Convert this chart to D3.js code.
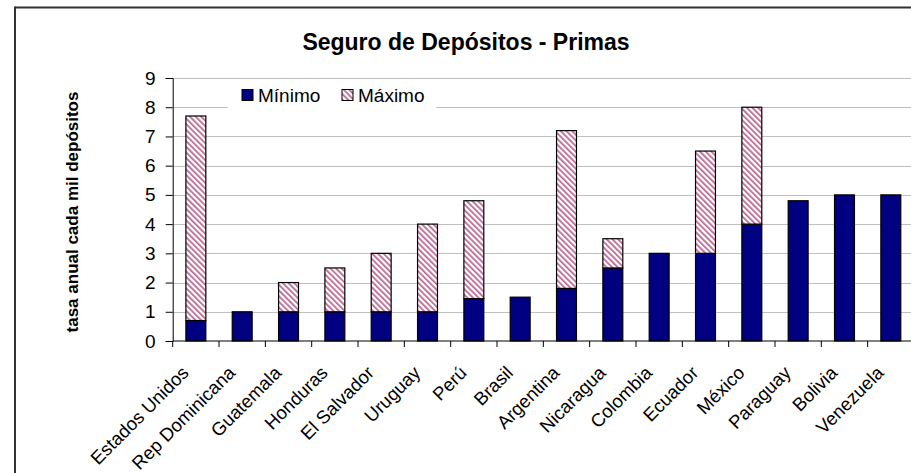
<!DOCTYPE html>
<html lang='en'>
<head>
    <meta charset='UTF-8'>
    <title>Seguro de Depósitos - Primas</title>
    <style>
        body { margin: 0; background: #fff; }
        text { font-family: 'Liberation Sans', Arial, sans-serif; fill: #000; }
    </style>
</head>
<body>
<div id="chart-area"></div>
<script src='https://d3js.org/d3.v7.min.js'></script>
<script>

    const countries = ['Estados Unidos', 'Rep Dominicana', 'Guatemala', 'Honduras', 'El Salvador', 'Uruguay',
        'Perú', 'Brasil', 'Argentina', 'Nicaragua', 'Colombia', 'Ecuador', 'México', 'Paraguay', 'Bolivia', 'Venezuela'];
    const minimo = [0.7, 1, 1, 1, 1, 1, 1.45, 1.5, 1.8, 2.5, 3, 3, 4, 4.8, 5, 5];
    const maximo = [7.7, null, 2, 2.5, 3, 4, 4.8, null, 7.2, 3.5, null, 6.5, 8, null, null, null];
    const yTicks = [0, 1, 2, 3, 4, 5, 6, 7, 8, 9];
    const seriesNames = ['Mínimo', 'Máximo'];

    const outerWidth = 911;
    const outerHeight = 473;
    const margin = {top: 78, left: 172.7, bottom: 132};
    const plotWidth = 46.33 * countries.length;
    const plotHeight = outerHeight - margin.top - margin.bottom;

    const svg = d3.select('#chart-area').append('svg')
        .attr('width', outerWidth)
        .attr('height', outerHeight);

    const defs = svg.append('defs');
    const pat = defs.append('pattern')
        .attr('id', 'stripes')
        .attr('patternUnits', 'userSpaceOnUse')
        .attr('width', 4)
        .attr('height', 4)
        .attr('patternTransform', 'rotate(-45)');
    pat.append('rect').attr('width', 4).attr('height', 4).attr('fill', '#fff');
    pat.append('rect').attr('width', 1.7).attr('height', 4).attr('fill', '#b9628f');

    // chart area border (only top and left visible)
    svg.append('line').attr('x1', 15).attr('x2', outerWidth).attr('y1', 7.5).attr('y2', 7.5)
        .attr('stroke', '#333').attr('stroke-width', 2);
    svg.append('line').attr('x1', 15).attr('x2', 15).attr('y1', 6.5).attr('y2', outerHeight)
        .attr('stroke', '#333').attr('stroke-width', 2);

    svg.append('text')
        .attr('x', 466)
        .attr('y', 50)
        .attr('text-anchor', 'middle')
        .style('font-size', '23px')
        .style('font-weight', 'bold')
        .text('Seguro de Depósitos - Primas');

    const g = svg.append('g')
        .attr('transform', `translate(${margin.left}, ${margin.top})`);

    const xScale = d3.scaleBand().domain(countries).range([0, plotWidth]).paddingInner(0.57).paddingOuter(0.285);
    const yScale = d3.scaleLinear().domain([0, 9]).range([plotHeight, 0]);

    // gridlines
    g.append('g')
        .selectAll('line')
        .data(yTicks.filter(d => d > 0))
        .enter().append('line')
        .attr('x1', 0)
        .attr('x2', plotWidth)
        .attr('y1', d => Math.round(yScale(d)) + 0.5)
        .attr('y2', d => Math.round(yScale(d)) + 0.5)
        .attr('stroke', '#c0c0c0')
        .attr('stroke-width', 1.2);

    const yAxis = d3.axisLeft(yScale).tickValues(yTicks).tickSize(7).tickPadding(10).tickFormat(d3.format('d'));
    const gy = g.append('g').call(yAxis);
    gy.select('.domain').attr('stroke', '#000');
    gy.selectAll('text').style('font-size', '19px').attr('fill', '#000');

    // bars: Mínimo from 0, Máximo stacked from the minimum up to the maximum
    g.append('g')
        .selectAll('rect')
        .data(countries.map((c, i) => ({c, v: minimo[i]})))
        .enter().append('rect')
        .attr('x', d => xScale(d.c))
        .attr('y', d => yScale(d.v))
        .attr('width', xScale.bandwidth())
        .attr('height', d => yScale(0) - yScale(d.v))
        .attr('fill', '#000080')
        .attr('stroke', '#000')
        .attr('stroke-width', 1.2);

    g.append('g')
        .selectAll('rect')
        .data(countries.map((c, i) => ({c, lo: minimo[i], hi: maximo[i]})).filter(d => d.hi != null))
        .enter().append('rect')
        .attr('x', d => xScale(d.c))
        .attr('y', d => yScale(d.hi))
        .attr('width', xScale.bandwidth())
        .attr('height', d => yScale(d.lo) - yScale(d.hi))
        .attr('fill', 'url(#stripes)')
        .attr('stroke', '#000')
        .attr('stroke-width', 1.2);

    // x axis with ticks between categories
    const gx = g.append('g').attr('transform', `translate(0, ${plotHeight})`);
    gx.append('line').attr('x1', 0).attr('x2', plotWidth).attr('y1', 0).attr('y2', 0).attr('stroke', '#000');
    gx.selectAll('.sep')
        .data(d3.range(countries.length + 1))
        .enter().append('line')
        .attr('x1', i => i * xScale.step())
        .attr('x2', i => i * xScale.step())
        .attr('y1', 0)
        .attr('y2', 6)
        .attr('stroke', '#000');
    gx.selectAll('.lbl')
        .data(countries)
        .enter().append('text')
        .attr('text-anchor', 'end')
        .attr('transform', d => `translate(${xScale(d) + xScale.bandwidth() / 2 - 6}, 33) rotate(-45)`)
        .style('font-size', '18.5px')
        .text(d => d);

    // y axis title
    svg.append('text')
        .attr('transform', 'translate(78, 212) rotate(-90)')
        .attr('text-anchor', 'middle')
        .style('font-size', '17px')
        .style('font-weight', 'bold')
        .text('tasa anual cada mil depósitos');

    // legend
    const lg = svg.append('g');
    lg.append('rect').attr('x', 228).attr('y', 81).attr('width', 208).attr('height', 30).attr('fill', '#fff');
    const items = lg.selectAll('g')
        .data(seriesNames)
        .enter().append('g')
        .attr('transform', (d, i) => `translate(${242 + i * 100}, 95)`);
    items.append('rect')
        .attr('x', 0).attr('y', -5.5).attr('width', 11).attr('height', 11)
        .attr('fill', (d, i) => i === 0 ? '#000080' : 'url(#stripes)')
        .attr('stroke', '#000');
    items.append('text')
        .attr('x', 16)
        .attr('dy', '0.36em')
        .style('font-size', '19px')
        .text(d => d);
</script>
</body>
</html>
